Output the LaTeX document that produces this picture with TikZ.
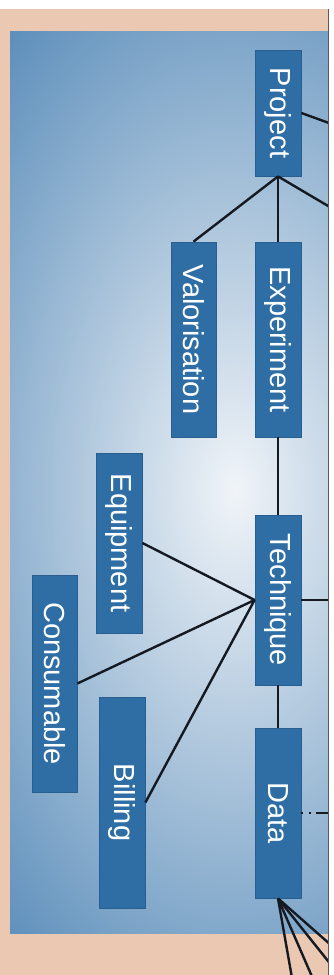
\documentclass[tikz,border=0pt]{standalone}
\usepackage{fontspec}
\setmainfont{Liberation Sans}
\definecolor{peach}{HTML}{EBC8B1}
\definecolor{bgedge}{HTML}{3674AB}
\definecolor{bginner}{HTML}{F0F4F8}
\definecolor{boxfill}{HTML}{2E6EA5}
\definecolor{boxedge}{HTML}{285F90}
\definecolor{linkcol}{HTML}{151A22}
\begin{document}
\begin{tikzpicture}[x=1pt,y=-1pt,
  box/.style={draw=boxedge, line width=0.8pt, fill=boxfill, text=white, inner sep=0pt,
    minimum width=46pt, font=\fontsize{29}{29}\selectfont},
  link/.style={draw=linkcol, line width=2.4pt},
  dlink/.style={draw=linkcol, line width=2.4pt, dash pattern=on 2pt off 6pt on 2pt off 5pt on 12pt off 5pt}]
\useasboundingbox (0,0) rectangle (334,975);
% page background
\fill[peach] (0,0) rectangle (334,975);
\fill[white] (0,0) rectangle (334,9);
\begin{scope}
  \clip (0,0) rectangle (328,975);
  % blue panel with radial light
  \begin{scope}
    \clip (10,31) rectangle (340,933);
    \fill[bgedge] (10,31) rectangle (340,933);
    \shade[inner color=bginner, outer color=bgedge] (235,490) ellipse [x radius=450pt, y radius=750pt];
  \end{scope}
  % nodes
  \node[box, minimum height=126pt] (project) at (278,113) {\rotatebox{-90}{Project}};
  \node[box, minimum width=45pt, minimum height=195pt] (valor) at (193.5,339.5) {\rotatebox{-90}{Valorisation}};
  \node[box, minimum height=195pt] (exper) at (278,339.5) {\rotatebox{-90}{Experiment}};
  \node[box, minimum height=180pt] (equip) at (119,543) {\rotatebox{-90}{Equipment}};
  \node[box, minimum height=170pt] (tech) at (278,600) {\rotatebox{-90}{Technique}};
  \node[box, minimum width=45pt, minimum height=217pt] (consum) at (54.5,683.5) {\rotatebox{-90}{Consumable}};
  \node[box, minimum height=211pt] (billing) at (122,802.5) {\rotatebox{-90}{Billing}};
  \node[box, minimum height=170pt] (data) at (278,813) {\rotatebox{-90}{Data}};
  % off-picture ends
  \coordinate (pr1) at (340,127);
  \coordinate (pr2) at (340,213);
  \coordinate (tr) at (340,600);
  \coordinate (dr) at (340,813);
  \coordinate (d1) at (295,995);
  \coordinate (d2) at (320,995);
  \coordinate (d3) at (340,976);
  \coordinate (d4) at (340,953);
  % connectors
  \draw[link] (project.south) -- (valor.north);
  \draw[link] (project.south) -- (exper.north);
  \draw[link] (project.south) -- (pr2);
  \draw[link] (project.east) -- (pr1);
  \draw[link] (exper.south) -- (tech.north);
  \draw[link] (tech.west) -- (equip.east);
  \draw[link] (tech.west) -- (consum.east);
  \draw[link] (tech.west) -- (billing.east);
  \draw[link] (tech.east) -- (tr);
  \draw[link] (tech.south) -- (data.north);
  \draw[dlink] (data.east) -- (dr);
  \draw[link] (data.south) -- (d1);
  \draw[link] (data.south) -- (d2);
  \draw[link] (data.south) -- (d3);
  \draw[link] (data.south) -- (d4);
\end{scope}
% right edge
\fill[white] (328,0) rectangle (334,975);
\fill[black!65] (327.6,9) rectangle (329.2,975);
\end{tikzpicture}
\end{document}
